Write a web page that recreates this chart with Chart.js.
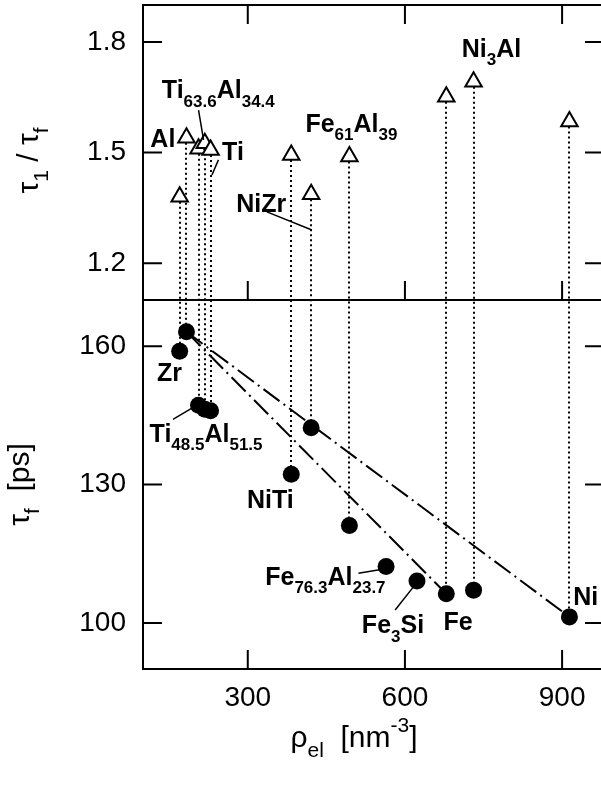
<!DOCTYPE html>
<html>
<head>
<meta charset="utf-8">
<script src="https://cdn.jsdelivr.net/npm/chart.js@4"></script>
<style>
  html, body { margin: 0; padding: 0; background: #fff; overflow: hidden; }
  canvas { display: block; }
</style>
</head>
<body>
<canvas id="grafico" width="610" height="785"></canvas>
<script>
// Dados
const materiais = ['Zr', 'Al', 'Ti48.5Al51.5', 'Ti63.6Al34.4', 'Ti', 'NiTi', 'NiZr', 'Fe61Al39', 'Fe76.3Al23.7', 'Fe3Si', 'Fe', 'Ni3Al', 'Ni']
const rhoEl = [170, 183, 206, 218, 229, 383, 421, 494, 564, 623, 679, 731, 914]
const razaoTau = [1.38, 1.54, 1.51, 1.525, 1.507, 1.493, 1.387, 1.489, null, null, 1.651, 1.692, 1.584]
const tauF = [158.9, 163.1, 147.2, 146.3, 146.0, 132.2, 142.3, 121.1, 112.2, 109.1, 106.3, 107.1, 101.3]

// retas traço-ponto (de / até)
const retas = [['Al', 'Fe'], ['Al', 'Ni']]

// ticks
const ticksRho = [300, 600, 900]
const ticksRazao = [1.2, 1.5, 1.8]
const ticksTau = [100, 130, 160]

// rótulos (coordenadas em unidades dos eixos)
const rotulosRazao = [
    { partes: [['Ti'], ['63.6', 'sub'], ['Al'], ['34.4', 'sub']], x: 136, y: 1.647, linha: [206, 1.615, 215.6, 1.534] },
    { partes: [['Al']], x: 114, y: 1.516 },
    { partes: [['Ti']], x: 251, y: 1.48, linha: [244, 1.48, 231.6, 1.439] },
    { partes: [['Fe'], ['61', 'sub'], ['Al'], ['39', 'sub']], x: 410, y: 1.556 },
    { partes: [['NiZr']], x: 278, y: 1.339, linha: [336.5, 1.339, 422.4, 1.29] },
    { partes: [['Ni'], ['3', 'sub'], ['Al']], x: 708.5, y: 1.76 }
]

const rotulosTau = [
    { partes: [['Zr']], x: 126.7, y: 152.5 },
    { partes: [['Ti'], ['48.5', 'sub'], ['Al'], ['51.5', 'sub']], x: 112.6, y: 139.3, linha: [157.2, 144.1, 203, 147.2] },
    { partes: [['NiTi']], x: 298.4, y: 124.8 },
    { partes: [['Fe'], ['76.3', 'sub'], ['Al'], ['23.7', 'sub']], x: 333.3, y: 108.2, linha: [511.3, 110.75, 551.4, 111.5] },
    { partes: [['Fe'], ['3', 'sub'], ['Si']], x: 517.8, y: 97.7, linha: [581.3, 102.8, 616.2, 107.8] },
    { partes: [['Fe']], x: 673.4, y: 98.5 },
    { partes: [['Ni']], x: 921.4, y: 103.9 }
]

const ctx = document.getElementById('grafico')
const familia = '"Liberation Sans", Arial, Helvetica, sans-serif'

function fonte(tam, negrito){
    return (negrito ? 'bold ' : '') + tam + 'px ' + familia
}

// texto com subscrito / sobrescrito
function desenharTexto(c, partes, x, y, tam, tamPeq, negrito, centro){
    let largura = 0
    for(const p of partes){
        c.font = fonte(p[1] ? tamPeq : tam, negrito)
        largura += c.measureText(p[0]).width
    }
    let cx = centro ? x - largura / 2 : x
    c.textAlign = 'left'
    c.textBaseline = 'alphabetic'
    for(const p of partes){
        c.font = fonte(p[1] ? tamPeq : tam, negrito)
        let dy = 0
        if(p[1] === 'sub') dy = tam * 0.33
        if(p[1] === 'sup') dy = -tam * 0.5
        c.fillText(p[0], cx, y + dy)
        cx += c.measureText(p[0]).width
    }
}

function indice(nome){
    return materiais.indexOf(nome)
}

const pontosRazao = []
const pontosTau = []
for(let i = 0; i < rhoEl.length; i++){
    if(razaoTau[i] !== null){
        pontosRazao.push({ x: rhoEl[i], y: razaoTau[i] })
    }
    pontosTau.push({ x: rhoEl[i], y: tauF[i] })
}

const datasets = [
    {
        label: 'tau1/tauf',
        data: pontosRazao,
        yAxisID: 'yR',
        pointStyle: 'triangle',
        pointRadius: 9.5,
        borderColor: '#000',
        backgroundColor: '#fff',
        borderWidth: 2,
        showLine: false
    },
    {
        label: 'tauf',
        data: pontosTau,
        yAxisID: 'yT',
        pointStyle: 'circle',
        pointRadius: 8.5,
        borderColor: '#000',
        backgroundColor: '#000',
        borderWidth: 0,
        showLine: false
    }
]

for(const r of retas){
    const a = indice(r[0])
    const b = indice(r[1])
    datasets.push({
        type: 'line',
        data: [{ x: rhoEl[a], y: tauF[a] }, { x: rhoEl[b], y: tauF[b] }],
        yAxisID: 'yT',
        borderColor: '#000',
        borderWidth: 2,
        borderDash: [20, 5, 2, 5],
        pointRadius: 0,
        fill: false,
        order: 5
    })
}

const fonteTicks = { family: familia, size: 28 }

function semPadding(s){
    s.paddingTop = 0
    s.paddingBottom = 0
    s.paddingLeft = 0
    s.paddingRight = 0
}

function eixoY(min, max, peso, ticks){
    return {
        type: 'linear',
        position: 'left',
        stack: 'paineis',
        stackWeight: peso,
        min: min,
        max: max,
        grid: { display: false, drawTicks: false },
        border: { display: false },
        ticks: { font: fonteTicks, color: '#000', padding: 17 },
        afterBuildTicks: s => { s.ticks = ticks.map(v => ({ value: v })) },
        afterFit: s => { s.width = 143; semPadding(s) }
    }
}

const pluginDesenho = {
    id: 'desenho',
    beforeDatasetsDraw(chart){
        // linhas pontilhadas verticais ligando triângulo e círculo
        const c = chart.ctx
        const { x, yR, yT } = chart.scales
        c.save()
        c.strokeStyle = '#000'
        c.lineWidth = 2
        c.setLineDash([2, 3])
        for(let i = 0; i < rhoEl.length; i++){
            if(razaoTau[i] === null) continue
            const px = Math.round(x.getPixelForValue(rhoEl[i]))
            c.beginPath()
            c.moveTo(px, yR.getPixelForValue(razaoTau[i]))
            c.lineTo(px, yT.getPixelForValue(tauF[i]))
            c.stroke()
        }
        c.restore()
    },
    afterDatasetsDraw(chart){
        const c = chart.ctx
        const { x, yR, yT } = chart.scales
        c.save()
        c.fillStyle = '#000'
        c.strokeStyle = '#000'
        c.lineWidth = 1.5

        const grupos = [[rotulosRazao, yR], [rotulosTau, yT]]
        for(const g of grupos){
            const escala = g[1]
            for(const r of g[0]){
                desenharTexto(c, r.partes, x.getPixelForValue(r.x), escala.getPixelForValue(r.y), 25, 17, true, false)
                if(r.linha){
                    c.beginPath()
                    c.moveTo(x.getPixelForValue(r.linha[0]), escala.getPixelForValue(r.linha[1]))
                    c.lineTo(x.getPixelForValue(r.linha[2]), escala.getPixelForValue(r.linha[3]))
                    c.stroke()
                }
            }
        }

        // títulos dos eixos
        c.save()
        c.translate(38, (yR.top + yR.bottom) / 2 + 8)
        c.rotate(-Math.PI / 2)
        desenharTexto(c, [['τ'], ['1', 'sub'], [' / '], ['τ'], ['f', 'sub']], 0, 0, 30, 21, false, true)
        c.restore()

        c.save()
        c.translate(29, (yT.top + yT.bottom) / 2)
        c.rotate(-Math.PI / 2)
        desenharTexto(c, [['τ'], ['f', 'sub'], ['  [ps]']], 0, 0, 30, 21, false, true)
        c.restore()

        desenharTexto(c, [['ρ'], ['el', 'sub'], ['  [nm'], ['-3', 'sup'], [']']], 354, 747, 30, 21, false, true)
        c.restore()
    },
    afterDraw(chart){
        // moldura, divisória e ticks para dentro
        const c = chart.ctx
        const area = chart.chartArea
        const { x, yR, yT } = chart.scales
        const t = 19
        c.save()
        c.strokeStyle = '#000'
        c.lineWidth = 2
        c.strokeRect(area.left, area.top, area.right - area.left, area.bottom - area.top)
        c.beginPath()
        c.moveTo(area.left, yR.bottom)
        c.lineTo(area.right, yR.bottom)

        for(const v of ticksRazao){
            const py = yR.getPixelForValue(v)
            c.moveTo(area.left, py); c.lineTo(area.left + t, py)
            c.moveTo(area.right, py); c.lineTo(area.right - t, py)
        }
        for(const v of ticksTau){
            const py = yT.getPixelForValue(v)
            c.moveTo(area.left, py); c.lineTo(area.left + t, py)
            c.moveTo(area.right, py); c.lineTo(area.right - t, py)
        }
        for(const v of ticksRho){
            const px = x.getPixelForValue(v)
            c.moveTo(px, area.top); c.lineTo(px, area.top + t)
            c.moveTo(px, yR.bottom); c.lineTo(px, yR.bottom - t)
            c.moveTo(px, area.bottom); c.lineTo(px, area.bottom - t)
        }
        c.stroke()
        c.restore()
    }
}

new Chart(ctx, {
    type: 'scatter',
    data: { datasets: datasets },
    plugins: [pluginDesenho],
    options: {
        responsive: false,
        animation: false,
        layout: { autoPadding: false, padding: { top: 5, right: 6, left: 0, bottom: 0 } },
        plugins: {
            legend: { display: false },
            tooltip: { enabled: false }
        },
        scales: {
            x: {
                type: 'linear',
                position: 'bottom',
                min: 100,
                max: 980,
                grid: { display: false, drawTicks: false },
                border: { display: false },
                ticks: { font: fonteTicks, color: '#000', padding: 12, maxRotation: 0 },
                afterBuildTicks: s => { s.ticks = ticksRho.map(v => ({ value: v })) },
                afterFit: s => { s.height = 116; semPadding(s) }
            },
            yT: eixoY(90, 170, 369, ticksTau),
            yR: eixoY(1.1, 1.9, 295, ticksRazao)
        }
    }
})
</script>
</body>
</html>
